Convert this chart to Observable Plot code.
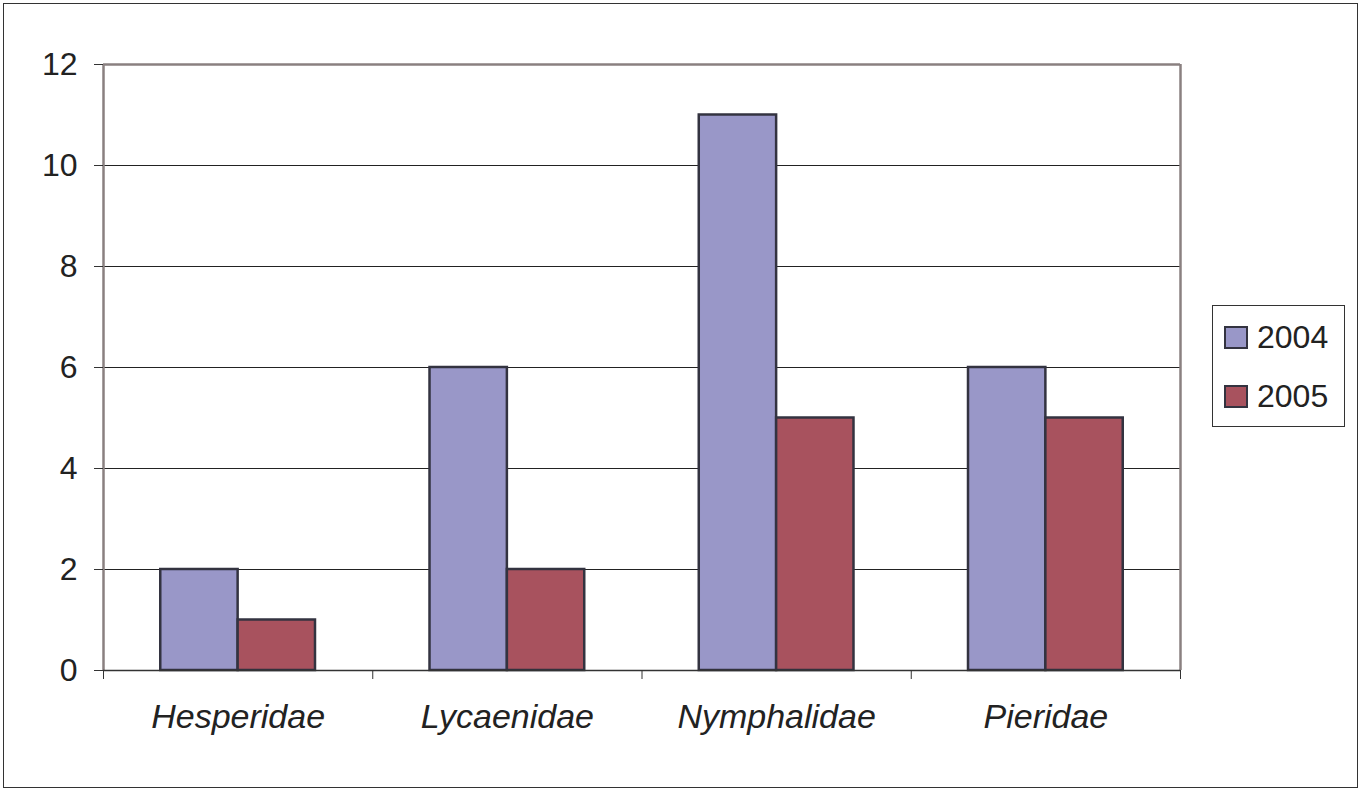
<!DOCTYPE html>
<html>
<head>
<meta charset="utf-8">
<script src="https://cdn.jsdelivr.net/npm/d3@7"></script>
<script src="https://cdn.jsdelivr.net/npm/@observablehq/plot@0.6"></script>
<style>
  html, body { margin: 0; padding: 0; background: #fff; }
  #wrap { position: relative; width: 1362px; height: 792px; font-family: "Liberation Sans", Arial, Helvetica, sans-serif; color: #222; }
  #outer { position: absolute; left: 3px; top: 3px; width: 1355px; height: 785px; border: 1px solid #333; box-sizing: border-box; }
  #chart { position: absolute; left: 0; top: 0; }
  #legend { position: absolute; left: 1212px; top: 305px; width: 133px; height: 122px; border: 1px solid #333; box-sizing: border-box; background: #fff; }
  .item { position: absolute; left: 11px; display: flex; align-items: center; font-size: 32px; line-height: 1; }
  .sw { width: 24px; height: 23px; box-sizing: border-box; border: 2.5px solid #333340; margin-right: 9px; }
  .cat text { font-style: italic; }
</style>
</head>
<body>
<div id="wrap">
  <div id="outer"></div>
  <div id="chart"></div>
  <div id="legend"></div>
</div>
<script>
const families = ["Hesperidae", "Lycaenidae", "Nymphalidae", "Pieridae"];
const years = ["2004", "2005"];
const values2004 = [2, 6, 11, 6];
const values2005 = [1, 2, 5, 5];
const yTicks = [0, 2, 4, 6, 8, 10, 12];
const colors = ["#9997c8", "#a8525e"];

const seriesByYear = {"2004": values2004, "2005": values2005};
const yearBand = d3.scaleBand().domain(years).range([0, 1]).paddingInner(0).paddingOuter(0.74);
const data = families.flatMap((f, i) => years.map(y => ({
  family: f, i, year: y, value: seriesByYear[y][i],
  x1: i + yearBand(y), x2: i + yearBand(y) + yearBand.bandwidth()
})));
const boundaries = d3.range(families.length + 1);
const centers = families.map((f, i) => i + 0.5);

const plot = Plot.plot({
  width: 1362,
  height: 792,
  marginLeft: 103,
  marginRight: 182,
  marginTop: 64,
  marginBottom: 122,
  style: {fontFamily: '"Liberation Sans", Arial, Helvetica, sans-serif', color: "#222", background: "transparent"},
  x: {domain: [0, families.length], axis: null},
  y: {domain: [0, 12], axis: null},
  color: {domain: years, range: colors},
  marks: [
    Plot.gridY(yTicks, {stroke: "#222", strokeOpacity: 1, strokeWidth: 1}),
    Plot.rectY(data, {x1: "x1", x2: "x2", y: "value", fill: "year", stroke: "#333340", strokeWidth: 2.5}),
    Plot.ruleY([12], {stroke: "#8a8080", strokeWidth: 2.5}),
    Plot.ruleX([0, families.length], {stroke: "#8a8080", strokeWidth: 2.5}),
    Plot.ruleY([0], {stroke: "#333", strokeWidth: 1.5}),
    Plot.axisY(yTicks, {tickSize: 9, tickPadding: 17, fontSize: 32, stroke: "#333", fill: "#222", label: null,
      tickFormat: d3.format("d")}),
    Plot.axisX(boundaries, {tickSize: 9, tickFormat: () => "", stroke: "#333", label: null}),
    Plot.axisX(centers, {tickSize: 0, tickPadding: 33, fontSize: 34, fill: "#222", className: "cat",
      tickFormat: d => families[Math.floor(d)], label: null})
  ]
});
document.getElementById("chart").appendChild(plot);

const legend = document.getElementById("legend");
years.forEach((y, j) => {
  const item = document.createElement("div");
  item.className = "item";
  item.style.top = (15 + j * 59) + "px";
  const sw = document.createElement("div");
  sw.className = "sw";
  sw.style.background = colors[j];
  const t = document.createElement("span");
  t.textContent = y;
  item.appendChild(sw);
  item.appendChild(t);
  legend.appendChild(item);
});
</script>
</body>
</html>
